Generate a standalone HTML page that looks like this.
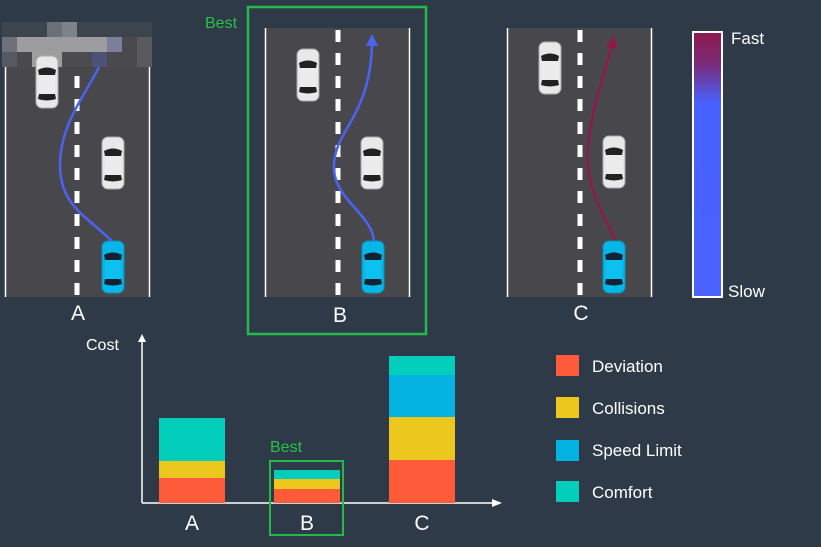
<!DOCTYPE html>
<html><head><meta charset="utf-8"><style>
html,body{margin:0;padding:0;background:#2e3a47;}
svg{display:block;font-family:"Liberation Sans","DejaVu Sans",sans-serif;}
</style></head><body>
<svg width="821" height="547" viewBox="0 0 821 547">
<defs>
<linearGradient id="spd" x1="0" y1="0" x2="0" y2="1">
<stop offset="0" stop-color="#8e1a4c"/><stop offset="0.12" stop-color="#7a2a78"/><stop offset="0.27" stop-color="#4862ff"/><stop offset="1" stop-color="#4a63ff"/>
</linearGradient>
<g id="wcar">
<rect x="-11" y="-26" width="22" height="52" rx="6" fill="#e8e8e8" stroke="#aaa" stroke-width="1"/>
<path d="M-9,-12 Q0,-17 9,-12 L8,-7 L-8,-7 Z" fill="#222"/>
<path d="M-8,12 L8,12 L9,17 Q0,20 -9,17 Z" fill="#222"/>
<rect x="-8" y="-7" width="16" height="19" fill="#ececec"/>
</g>
<g id="bcar">
<rect x="-11" y="-26" width="22" height="52" rx="6" fill="#05b6e6" stroke="#0792ba" stroke-width="1"/>
<path d="M-9,-12 Q0,-17 9,-12 L8,-7 L-8,-7 Z" fill="#123"/>
<path d="M-8,12 L8,12 L9,17 Q0,20 -9,17 Z" fill="#123"/>
<rect x="-8" y="-7" width="16" height="19" fill="#0cc0f0"/>
</g>
</defs>

<g>
<rect x="5" y="28" width="145" height="269" fill="#48484c"/>
<line x1="5.5" y1="28" x2="5.5" y2="297" stroke="#fff" stroke-width="1.5"/>
<line x1="149.5" y1="28" x2="149.5" y2="297" stroke="#fff" stroke-width="1.5"/>
<line x1="77" y1="30" x2="77" y2="297" stroke="#fff" stroke-width="5" stroke-dasharray="12 11"/>
<g fill="#3c444e">
<rect x="2" y="22" width="150" height="15"/></g>
<g>
<rect x="2" y="22" width="15" height="15" fill="#3c444e"/><rect x="47" y="22" width="15" height="15" fill="#6b7078"/><rect x="62" y="22" width="15" height="15" fill="#7d838a"/>
<rect x="2" y="37" width="15" height="15" fill="#6e7278"/><rect x="17" y="37" width="90" height="15" fill="#9d9d9f"/><rect x="107" y="37" width="15" height="15" fill="#7b7f99"/><rect x="122" y="37" width="15" height="15" fill="#4a4a4e"/><rect x="137" y="37" width="15" height="15" fill="#5a5a5e"/>
<rect x="2" y="52" width="15" height="15" fill="#555a60"/><rect x="17" y="52" width="15" height="15" fill="#4a4a4e"/><rect x="32" y="52" width="30" height="15" fill="#9e9e9f"/><rect x="62" y="52" width="30" height="15" fill="#4c4c50"/><rect x="92" y="52" width="15" height="15" fill="#4e5074"/><rect x="107" y="52" width="30" height="15" fill="#4a4a4e"/><rect x="137" y="52" width="15" height="15" fill="#5a5a5e"/>
</g>
<use href="#wcar" x="47" y="82"/><use href="#wcar" x="113" y="163"/><use href="#bcar" x="113" y="267"/>
<path d="M112,241 C85,215 60,205 60,165 C60,125 85,95 99,67" fill="none" stroke="#4a63f5" stroke-width="2.5"/>
<text x="78" y="320" fill="#fff" font-size="21" text-anchor="middle">A</text>
</g>

<g>
<rect x="248" y="7" width="178" height="327" fill="none" stroke="#25b94a" stroke-width="2.5"/>
<text x="205" y="28" fill="#25c24c" font-size="16">Best</text>
<rect x="265" y="28" width="145" height="269" fill="#48484c"/>
<line x1="265.5" y1="28" x2="265.5" y2="297" stroke="#fff" stroke-width="1.5"/>
<line x1="409.5" y1="28" x2="409.5" y2="297" stroke="#fff" stroke-width="1.5"/>
<line x1="338" y1="30" x2="338" y2="297" stroke="#fff" stroke-width="5" stroke-dasharray="12 11"/>
<use href="#wcar" x="308" y="75"/><use href="#wcar" x="372" y="163"/><use href="#bcar" x="373" y="267"/>
<path d="M374,241 C372,215 336,200 334,170 C332,130 370,120 372,44" fill="none" stroke="#4a63f5" stroke-width="2.5"/>
<path d="M366,46 L372,34 L378,46 Z" fill="#4a63f5"/>
<text x="340" y="322" fill="#fff" font-size="21" text-anchor="middle">B</text>
</g>

<g>
<rect x="507" y="28" width="145" height="269" fill="#48484c"/>
<line x1="507.5" y1="28" x2="507.5" y2="297" stroke="#fff" stroke-width="1.5"/>
<line x1="651.5" y1="28" x2="651.5" y2="297" stroke="#fff" stroke-width="1.5"/>
<line x1="580" y1="30" x2="580" y2="297" stroke="#fff" stroke-width="5" stroke-dasharray="12 11"/>
<use href="#wcar" x="550" y="68"/><use href="#wcar" x="614" y="162"/><use href="#bcar" x="614" y="267"/>
<path d="M615,240 C605,215 585,190 588,150 C590,110 605,75 612,44" fill="none" stroke="#8e1a4c" stroke-width="2.5"/>
<path d="M606,47 L614,35 L617,49 Z" fill="#8e1a4c"/>
<text x="581" y="320" fill="#fff" font-size="21" text-anchor="middle">C</text>
</g>

<g>
<rect x="693" y="32" width="29" height="265" fill="url(#spd)" stroke="#fff" stroke-width="2"/>
<text x="731" y="44" fill="#fff" font-size="17">Fast</text>
<text x="728" y="297" fill="#fff" font-size="17">Slow</text>
</g>

<g>
<line x1="142" y1="503" x2="142" y2="340" stroke="#fff" stroke-width="1.5"/>
<path d="M138,342 L142,334 L146,342 Z" fill="#fff"/>
<line x1="142" y1="503" x2="495" y2="503" stroke="#fff" stroke-width="1.5"/>
<path d="M492,499 L502,503 L492,507 Z" fill="#fff"/>
<text x="86" y="350" fill="#fff" font-size="16">Cost</text>
<g id="bars"></g>
<rect x="270" y="461" width="73" height="74" fill="none" stroke="#25b94a" stroke-width="2"/>
<text x="270" y="452" fill="#25c24c" font-size="16">Best</text>
</g>

<g font-size="17" fill="#fff">
<g><rect x="556" y="355" width="23" height="21" fill="#fe5b3a"/><text x="592" y="372">Deviation</text></g>
<g><rect x="556" y="397" width="23" height="21" fill="#ecc71d"/><text x="592" y="414">Collisions</text></g>
<g><rect x="556" y="440" width="23" height="21" fill="#05b3e3"/><text x="592" y="456">Speed Limit</text></g>
<g><rect x="556" y="481" width="23" height="21" fill="#03cdbb"/><text x="592" y="498">Comfort</text></g>
</g>
</svg>
<script>
const categories = ["A","B","C"];
const deviation = [25,14,43];
const collisions = [17,10,43];
const speedLimit = [0,0,42];
const comfort = [43,9,19];
const seriesNames = ["deviation","collisions","speed-limit","comfort"];
(function(){
  const series=[deviation,collisions,speedLimit,comfort];
  const colors=["#fe5b3a","#ecc71d","#05b3e3","#03cdbb"];
  const base=503, scale=1;
  const xCenter=i=>192+i*115;
  const bw=66;
  const g=document.getElementById('bars');
  const ns='http://www.w3.org/2000/svg';
  categories.forEach((c,i)=>{
    let y=base;
    series.forEach((s,k)=>{
      const h=s[i]*scale;
      if(h<=0) return;
      const r=document.createElementNS(ns,'rect');
      r.setAttribute('x',xCenter(i)-bw/2);
      r.setAttribute('y',y-h);
      r.setAttribute('width',bw);
      r.setAttribute('height',h);
      r.setAttribute('fill',colors[k]);
      
      
      g.appendChild(r);
      y-=h;
    });
    const t=document.createElementNS(ns,'text');
    t.setAttribute('x',xCenter(i));
    t.setAttribute('y',530);
    t.setAttribute('fill','#fff');
    t.setAttribute('font-size','21');
    t.setAttribute('text-anchor','middle');
    t.textContent=c;
    
    
    g.appendChild(t);
  });
})();
</script>
</body></html>
